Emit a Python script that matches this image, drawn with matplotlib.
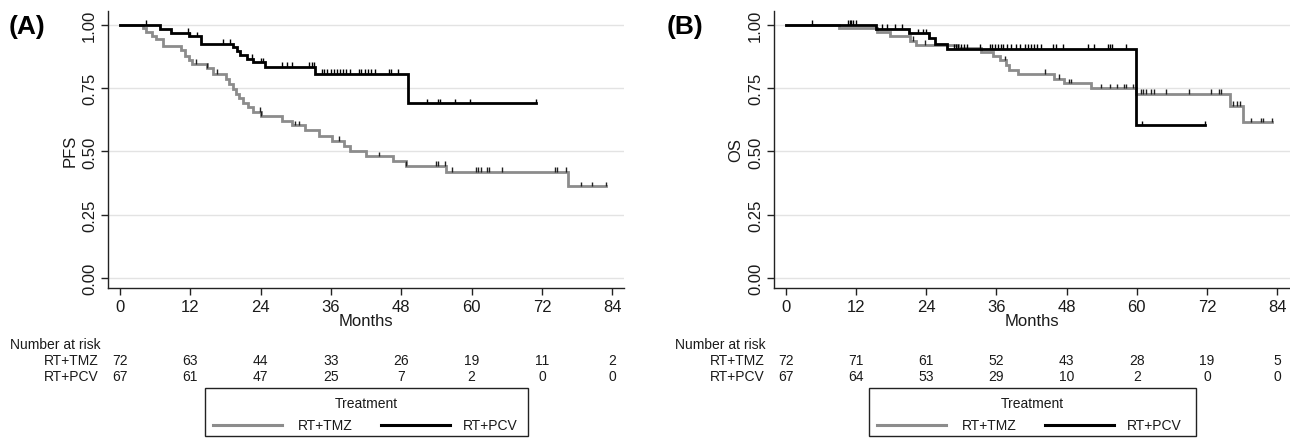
import numpy as np
import matplotlib
matplotlib.use("Agg")
import matplotlib.pyplot as plt
from matplotlib.patches import Rectangle
from matplotlib.lines import Line2D
import matplotlib.transforms as mtransforms

plt.rcParams['font.family'] = ['Liberation Sans', 'DejaVu Sans']

# ---------------- data ----------------
x_ticks = [0, 12, 24, 36, 48, 60, 72, 84]
y_ticks = [0.0, 0.25, 0.5, 0.75, 1.0]
groups = ["RT+TMZ", "RT+PCV"]

# Panel A: PFS
tmz_pfs_t = [0, 4.0, 4.5, 5.4, 6.1, 7.4, 10.4, 11.1, 11.7, 12.3, 14.9, 15.9, 18.1, 18.6, 19.2,
             19.8, 20.3, 21.0, 21.8, 22.7, 24.1, 27.6, 29.3, 31.6, 33.9, 36.2, 38.2, 39.3, 41.9,
             46.5, 48.8, 55.6, 76.4]
tmz_pfs_s = [1.0, 0.986, 0.972, 0.958, 0.944, 0.917, 0.900, 0.879, 0.861, 0.847, 0.830, 0.806,
             0.787, 0.767, 0.747, 0.728, 0.711, 0.692, 0.675, 0.656, 0.642, 0.622, 0.604, 0.583,
             0.563, 0.543, 0.522, 0.500, 0.481, 0.461, 0.443, 0.420, 0.362]
tmz_pfs_end = 83.0
tmz_pfs_cens = [12.9, 14.9, 16.5, 23.9, 24.1, 29.8, 30.5, 37.4, 44.2, 48.8, 53.9, 54.2, 55.5,
                56.6, 60.8, 61.1, 61.6, 62.6, 63.0, 65.2, 74.2, 74.6, 76.1, 78.7, 80.5, 83.0]

pcv_pfs_t = [0, 6.8, 8.7, 11.8, 13.8, 19.3, 19.9, 20.5, 21.6, 22.7, 24.8, 33.3, 49.1]
pcv_pfs_s = [1.0, 0.985, 0.970, 0.955, 0.925, 0.911, 0.897, 0.882, 0.867, 0.852, 0.835, 0.806, 0.690]
pcv_pfs_end = 71.0
pcv_pfs_cens = [4.5, 11.6, 11.9, 13.2, 17.5, 18.8, 22.5, 24.0, 24.4, 27.7, 28.5, 29.4, 32.3, 32.7,
                33.1, 34.4, 34.8, 35.4, 36.0, 36.5, 37.1, 37.6, 38.0, 38.6, 39.2, 40.8, 41.2,
                41.8, 42.4, 42.9, 43.5, 45.9, 46.3, 47.4, 52.3, 54.3, 54.6, 57.2, 59.7, 71.0]

# Panel B: OS
tmz_os_t = [0, 9.0, 15.5, 17.8, 21.2, 22.3, 29.5, 33.4, 35.4, 36.6, 37.6, 38.2, 39.7, 45.8,
            47.6, 52.1, 59.8, 76.0, 78.2]
tmz_os_s = [1.0, 0.986, 0.972, 0.955, 0.937, 0.922, 0.908, 0.894, 0.879, 0.860, 0.840, 0.823,
            0.806, 0.787, 0.770, 0.750, 0.727, 0.680, 0.615]
tmz_os_end = 83.2
tmz_os_cens = [21.8, 23.8, 37.5, 44.3, 46.7, 48.4, 48.8, 53.9, 55.4, 56.6, 57.8, 58.2, 59.4,
               60.7, 61.1, 61.5, 62.4, 63.0, 65.0, 69.0, 72.7, 74.1, 74.4, 76.5, 77.2, 77.6,
               79.5, 81.3, 81.6, 83.2]

pcv_os_t = [0, 15.4, 21.1, 24.5, 25.5, 27.5, 59.8]
pcv_os_s = [1.0, 0.984, 0.967, 0.947, 0.925, 0.905, 0.604]
pcv_os_end = 71.7
pcv_os_cens = [4.4, 10.6, 10.9, 11.2, 11.5, 12.0, 16.5, 17.3, 18.6, 19.8, 22.5, 23.4, 24.0, 24.5,
               27.5, 28.7, 29.1, 29.5, 29.9, 30.4, 31.0, 33.2, 34.9, 35.3, 35.8, 36.2, 36.7,
               37.2, 37.8, 38.5, 39.4, 40.0, 40.9, 41.4, 41.9, 42.4, 42.9, 43.6, 45.7, 46.2,
               47.3, 51.6, 52.7, 55.0, 55.4, 55.8, 58.1, 60.9, 71.7]

risk_A_tmz = [72, 63, 44, 33, 26, 19, 11, 2]
risk_A_pcv = [67, 61, 47, 25, 7, 2, 0, 0]
risk_B_tmz = [72, 71, 61, 52, 43, 28, 19, 5]
risk_B_pcv = [67, 64, 53, 29, 10, 2, 0, 0]

# ---------------- style ----------------
W, H = 1290, 439
GRAY = "#8c8c8c"
BLACK = "#000000"
TXT = "#1a1a1a"
FS_TICK = 12
FS_TAB = 10

fig = plt.figure(figsize=(W / 100, H / 100), dpi=100)


def fx(px):
    return px / W


def fy(py):
    return 1 - py / H


def draw_km(ax, t, s, end, cens, color):
    tt = list(t) + [end]
    ss = list(s) + [s[-1]]
    ax.step(tt, ss, where='post', color=color, lw=2.0, solid_joinstyle='miter', zorder=3)
    idx = np.searchsorted(np.array(t), np.array(cens), side='right') - 1
    cy = np.array(s)[idx]
    ax.vlines(cens, cy, cy + 0.018, color=color if color == BLACK else "#202020", lw=1.0, zorder=4)


def setup_ax(ax, ylabel, xright):
    ax.set_xlim(-2.05, xright)
    ax.set_ylim(-0.0395, 1.055)
    for sp in ['top', 'right']:
        ax.spines[sp].set_visible(False)
    for sp in ['left', 'bottom']:
        ax.spines[sp].set_color("#222222")
        ax.spines[sp].set_linewidth(1.0)
    ax.set_xticks(x_ticks)
    ax.set_yticks(y_ticks)
    ax.set_yticklabels(["%.2f" % v for v in y_ticks], rotation=90, va='center')
    ax.tick_params(axis='both', direction='out', length=5, width=1, color="#222222",
                   labelsize=FS_TICK, labelcolor=TXT, pad=3)
    ax.grid(axis='y', color="#e3e3e3", lw=1.0, zorder=0)
    ax.set_axisbelow(True)
    ax.set_xlabel("Months", fontsize=FS_TICK, color=TXT, labelpad=-1)
    ax.set_ylabel(ylabel, fontsize=FS_TICK, color=TXT, labelpad=3)


def risk_table(ax, label_x, label_right, tmz, pcv):
    tr = mtransforms.blended_transform_factory(ax.transData, fig.transFigure)
    fig.text(fx(label_x), fy(345), "Number at risk", fontsize=FS_TAB, color=TXT, va='center', ha='left')
    fig.text(fx(label_right), fy(361), groups[0], fontsize=FS_TAB, color=TXT, va='center', ha='right')
    fig.text(fx(label_right), fy(377), groups[1], fontsize=FS_TAB, color=TXT, va='center', ha='right')
    for x, a, b in zip(x_ticks, tmz, pcv):
        ax.text(x, fy(361), str(a), transform=tr, fontsize=FS_TAB, color=TXT, ha='center', va='center')
        ax.text(x, fy(377), str(b), transform=tr, fontsize=FS_TAB, color=TXT, ha='center', va='center')


def legend_box(left, right):
    top, bottom = 389, 437
    fig.add_artist(Rectangle((fx(left), fy(bottom)), fx(right - left), (bottom - top) / H,
                             transform=fig.transFigure, fill=False, ec="#222222", lw=1.0))
    fig.text(fx((left + right) / 2), fy(404), "Treatment", fontsize=FS_TAB, color=TXT,
             ha='center', va='center')
    ly = fy(426)
    fig.add_artist(Line2D([fx(left + 8), fx(left + 77)], [ly, ly], color=GRAY, lw=2.2,
                          transform=fig.transFigure))
    fig.text(fx(left + 93), ly, groups[0], fontsize=FS_TAB, color=TXT, ha='left', va='center')
    fig.add_artist(Line2D([fx(left + 176), fx(left + 245)], [ly, ly], color=BLACK, lw=2.2,
                          transform=fig.transFigure))
    fig.text(fx(left + 258), ly, groups[1], fontsize=FS_TAB, color=TXT, ha='left', va='center')


# Panel A
axA = fig.add_axes([fx(108), fy(289), 516 / W, 277 / H])
setup_ax(axA, "PFS", 86.0)
draw_km(axA, tmz_pfs_t, tmz_pfs_s, tmz_pfs_end, tmz_pfs_cens, GRAY)
draw_km(axA, pcv_pfs_t, pcv_pfs_s, pcv_pfs_end, pcv_pfs_cens, BLACK)
risk_table(axA, 10, 99, risk_A_tmz, risk_A_pcv)
legend_box(205, 528)
fig.text(fx(9), fy(27), "(A)", fontsize=19, fontweight='bold', color=BLACK, va='center', ha='left')

# Panel B
axB = fig.add_axes([fx(774), fy(289), 516 / W, 277 / H])
setup_ax(axB, "OS", 86.2)
draw_km(axB, tmz_os_t, tmz_os_s, tmz_os_end, tmz_os_cens, GRAY)
draw_km(axB, pcv_os_t, pcv_os_s, pcv_os_end, pcv_os_cens, BLACK)
risk_table(axB, 675, 765, risk_B_tmz, risk_B_pcv)
legend_box(869, 1196)
fig.text(fx(667), fy(27), "(B)", fontsize=19, fontweight='bold', color=BLACK, va='center', ha='left')

fig.savefig("out.png", dpi=100, facecolor='white')
